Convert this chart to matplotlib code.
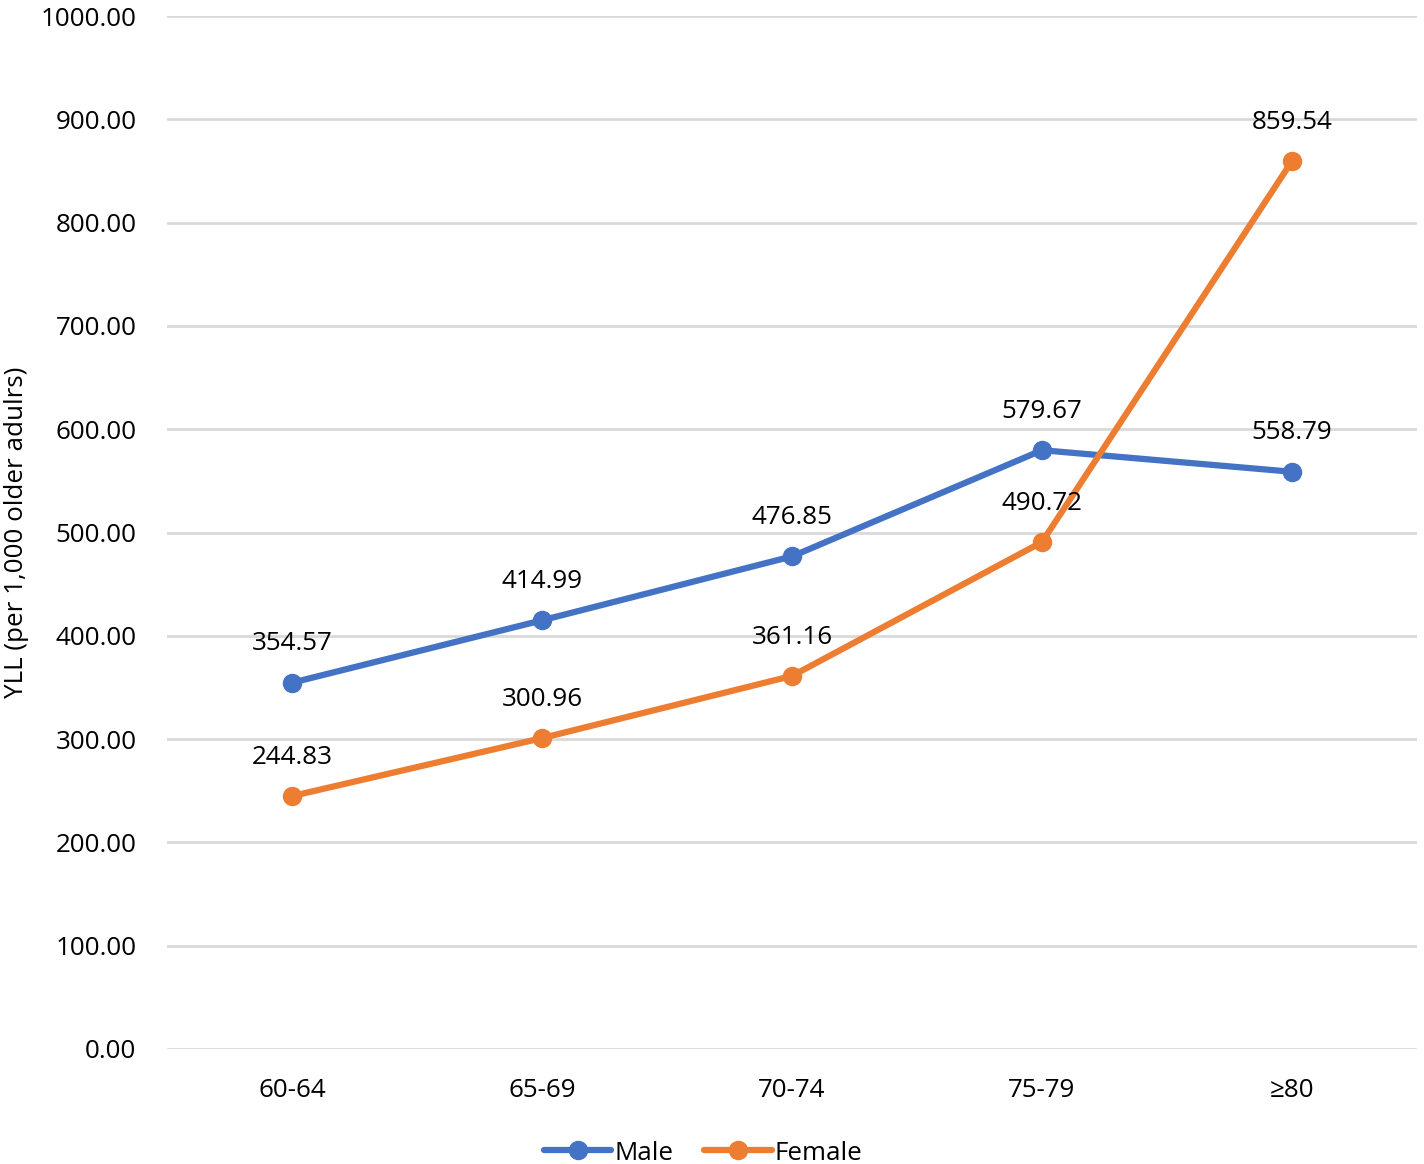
import matplotlib.pyplot as plt

plt.rcParams['font.family'] = ['Open Sans', 'DejaVu Sans']

age_groups = ["60-64", "65-69", "70-74", "75-79", "≥80"]
male = [354.57, 414.99, 476.85, 579.67, 558.79]
female = [244.83, 300.96, 361.16, 490.72, 859.54]

W, H = 1424, 1164
fig = plt.figure(figsize=(W / 100, H / 100), dpi=100)
ax = fig.add_axes([167 / W, 1 - 1049 / H, 1250 / W, 1033 / H])

x = list(range(len(age_groups)))
blue = "#4472C4"
orange = "#ED7D31"

ax.plot(x, male, c=blue, lw=4.5, marker="o", ms=13, label="Male", zorder=3, solid_capstyle="round")
ax.plot(x, female, c=orange, lw=4.5, marker="o", ms=13, label="Female", zorder=4, solid_capstyle="round")

for xi, v in zip(x, male):
    ax.annotate(f"{v:.2f}", (xi, v), xytext=(0, 28), textcoords="offset points",
                ha="center", va="center", fontsize=18.7, zorder=5)
for xi, v in zip(x, female):
    ax.annotate(f"{v:.2f}", (xi, v), xytext=(0, 28), textcoords="offset points",
                ha="center", va="center", fontsize=18.7, zorder=5)

ax.set_xlim(-0.5, 4.5)
ax.set_ylim(0, 1000)
ax.set_yticks(range(0, 1001, 100))
ax.set_yticklabels([f"{v:.2f}" for v in range(0, 1001, 100)], fontsize=18.7)
ax.set_xticks(x)
ax.set_xticklabels(age_groups, fontsize=18.7)
ax.tick_params(length=0, pad=22)
ax.tick_params(axis="x", pad=21)
ax.grid(axis="y", color="#d9d9d9", lw=2)
ax.set_axisbelow(True)
for s in ax.spines.values():
    s.set_visible(False)

ax.set_ylabel("YLL (per 1,000 older adulrs)", fontsize=18.7)
ax.yaxis.set_label_coords(-138 / 1250, 0.5)

fig.legend(*ax.get_legend_handles_labels(), loc="center", bbox_to_anchor=(703 / W, 1 - 1153 / H),
           ncol=2, frameon=False, fontsize=18.7, handlelength=2.6, handletextpad=0.1,
           columnspacing=1.2)

fig.savefig("out.png", dpi=100)
